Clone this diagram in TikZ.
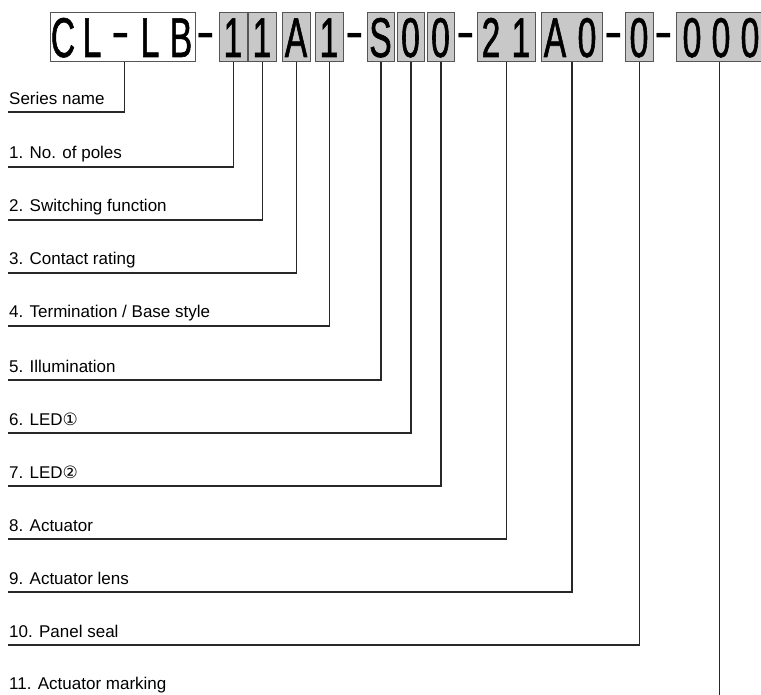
\documentclass[tikz,border=0pt]{standalone}
\usepackage{fontspec}
\setmainfont{Liberation Sans}
\newfontfamily\codefont[FakeStretch=0.6,FakeBold=1]{Liberation Sans}
\newfontfamily\dashfont{Liberation Sans}
\newfontfamily\circfont{DejaVu Sans}
\definecolor{codegray}{RGB}{200,200,200}
\definecolor{boxline}{RGB}{85,85,85}
\definecolor{connline}{RGB}{40,40,40}
\tikzset{
  codebox/.style={draw=boxline, line width=1pt, fill=codegray, inner sep=0pt, anchor=north west, minimum height=49pt},
  namebox/.style={draw=boxline, line width=1pt, fill=white, inner sep=0pt, anchor=north west, minimum height=49pt},
  ch/.style={inner sep=0pt, anchor=base, font=\codefont\fontsize{56}{60}\selectfont},
  dsh/.style={inner sep=0pt, anchor=north, font=\dashfont\fontsize{56}{60}\selectfont},
  lbl/.style={inner sep=0pt, anchor=base west, font=\fontsize{17}{20}\selectfont},
  conn/.style={draw=connline, line width=1.3pt}
}
\begin{document}
\begin{tikzpicture}[x=1pt,y=-1pt]
\useasboundingbox (0,0) rectangle (761,695);
\begin{scope}
\clip (0,0) rectangle (761,695);
% boxes
\node[namebox, minimum width=145pt] (b0) at (50,12) {};
\node[codebox, minimum width=28pt] (b1) at (219,12) {};
\node[codebox, minimum width=28pt] (b2) at (248,12) {};
\node[codebox, minimum width=28pt] (b3) at (282,12) {};
\node[codebox, minimum width=28pt] (b4) at (315,12) {};
\node[codebox, minimum width=27pt] (b5) at (367,12) {};
\node[codebox, minimum width=27pt] (b6) at (397,12) {};
\node[codebox, minimum width=27pt] (b7) at (427,12) {};
\node[codebox, minimum width=58pt] (b8) at (477,12) {};
\node[codebox, minimum width=61pt] (b9) at (541,12) {};
\node[codebox, minimum width=28pt] (b10) at (625,12) {};
\node[codebox, minimum width=86pt] (b11) at (676,12) {};
% characters
\node[ch] (c01) at (63,57) {C};
\node[ch] (c02) at (92,57) {L};
\node[dsh] (c03) at (121,33) {-};
\node[ch] (c04) at (150,57) {L};
\node[ch] (c05) at (181,57) {B};
\node[dsh] (d1) at (206,33) {-};
\node[ch] (c1) at (233,57) {1};
\node[ch] (c2) at (262,57) {1};
\node[ch] (c3) at (296,57) {A};
\node[ch] (c4) at (329,57) {1};
\node[dsh] (d2) at (355,33) {-};
\node[ch] (c5) at (380.5,57) {S};
\node[ch] (c6) at (410.5,57) {0};
\node[ch] (c7) at (440.5,57) {0};
\node[dsh] (d3) at (466,33) {-};
\node[ch] (c8a) at (491,57) {2};
\node[ch] (c8b) at (521,57) {1};
\node[ch] (c9a) at (555,57) {A};
\node[ch] (c9b) at (587,57) {0};
\node[dsh] (d4) at (614,33) {-};
\node[ch] (c10) at (639,57) {0};
\node[dsh] (d5) at (664,33) {-};
\node[ch] (c11a) at (692,57) {0};
\node[ch] (c11b) at (721,57) {0};
\node[ch] (c11c) at (750,57) {0};
% labels
\node[lbl] (l0) at (9,105) {Series name};
\node[lbl] (l1) at (9,159) {1. No. of poles};
\node[lbl] (l2) at (9,212) {2. Switching function};
\node[lbl] (l3) at (9,265) {3. Contact rating};
\node[lbl] (l4) at (9,318) {4. Termination / Base style};
\node[lbl] (l5) at (9,372) {5. Illumination};
\node[lbl] (l6) at (9,425) {6. LED{\circfont ①}};
\node[lbl] (l7) at (9,478) {7. LED{\circfont ②}};
\node[lbl] (l8) at (9,531) {8. Actuator};
\node[lbl] (l9) at (9,584) {9. Actuator lens};
\node[lbl] (l10) at (9,637) {10. Panel seal};
\node[lbl] (l11) at (9,689) {11. Actuator marking};
% line ends
\coordinate (e0) at (8,112);
\coordinate (e1) at (8,167);
\coordinate (e2) at (8,220);
\coordinate (e3) at (8,273);
\coordinate (e4) at (8,326);
\coordinate (e5) at (8,380);
\coordinate (e6) at (8,433);
\coordinate (e7) at (8,486);
\coordinate (e8) at (8,539);
\coordinate (e9) at (8,592);
\coordinate (e10) at (8,645);
\coordinate (e11) at (719.5,697);
% connectors
\draw[conn] ([xshift=1.5pt]b0.south) |- (e0);
\draw[conn] (b1.south) |- (e1);
\draw[conn] (b2.south) |- (e2);
\draw[conn] (b3.south) |- (e3);
\draw[conn] (b4.south) |- (e4);
\draw[conn] (b5.south) |- (e5);
\draw[conn] (b6.south) |- (e6);
\draw[conn] (b7.south) |- (e7);
\draw[conn] (b8.south) |- (e8);
\draw[conn] (b9.south) |- (e9);
\draw[conn] (b10.south) |- (e10);
\draw[conn] (b11.south -| e11) -- (e11);
\end{scope}
\end{tikzpicture}
\end{document}
